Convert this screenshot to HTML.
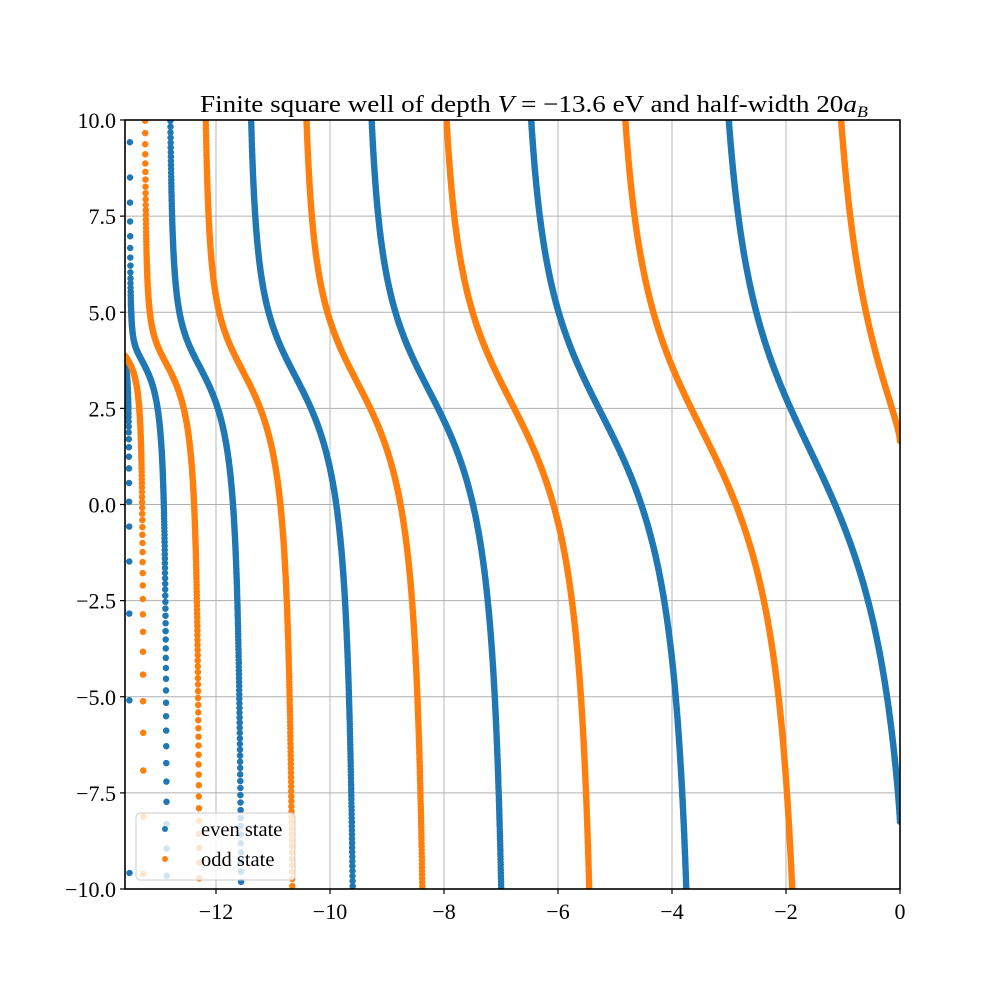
<!DOCTYPE html>
<html><head><meta charset="utf-8"><style>
html,body{margin:0;padding:0;background:#fff;}
svg{display:block;}
text{font-family:"Liberation Serif","DejaVu Serif",serif;fill:#000;}
</style></head><body>
<svg id="s" width="1000" height="1000" viewBox="0 0 1000 1000" xmlns="http://www.w3.org/2000/svg">
<defs><clipPath id="c"><rect x="125" y="120" width="775" height="769"/></clipPath></defs>
<g id="grid" stroke="#b0b0b0" stroke-width="0.9"></g>
<g id="pts" clip-path="url(#c)"></g>
<rect x="125" y="120" width="775" height="769" fill="none" stroke="#000" stroke-width="1.6"/>
<g id="ticks" stroke="#000" stroke-width="1.2"></g>
<g id="lab" font-size="22"></g>
<text x="200" y="112" font-size="24" textLength="668" lengthAdjust="spacingAndGlyphs">Finite square well of depth <tspan font-style="italic">V</tspan> = −13.6 eV and half-width 20<tspan font-style="italic">a</tspan><tspan font-style="italic" font-size="16" dy="5">B</tspan></text>
<rect x="136" y="813" width="159" height="67" rx="4" fill="#fff" fill-opacity="0.8" stroke="#cccccc" stroke-width="1"/>
<circle cx="165" cy="829" r="3" fill="#1f77b4"/>
<circle cx="165" cy="859" r="3" fill="#ff7f0e"/>
<text x="201" y="836" font-size="20.5">even state</text>
<text x="201" y="866" font-size="20.5">odd state</text>
</svg>
<script>
var NS="http://www.w3.org/2000/svg";
function X(e){return 900+e*57.0;}
function Y(v){return 504.5-v*38.45;}
var g=document.getElementById('grid'),t=document.getElementById('ticks'),l=document.getElementById('lab');
function ln(p,x1,y1,x2,y2){var e=document.createElementNS(NS,'line');e.setAttribute('x1',x1);e.setAttribute('y1',y1);e.setAttribute('x2',x2);e.setAttribute('y2',y2);p.appendChild(e);}
function tx(x,y,s,a){var e=document.createElementNS(NS,'text');e.setAttribute('x',x);e.setAttribute('y',y);e.setAttribute('text-anchor',a);e.textContent=s;l.appendChild(e);}
for(var e=-12;e<=0;e+=2){var x=X(e);ln(g,x,120,x,889);ln(t,x,889,x,894);tx(x,919,e<0?'−'+(-e):'0','middle');}
for(var i=-4;i<=4;i++){var v=i*2.5,y=Y(v);ln(g,125,y,900,y);ln(t,120,y,125,y);var s=Math.abs(v).toFixed(1);tx(116,y+8,(v<0?'−':'')+s,'end');}
var p=document.getElementById('pts');
var N=12000,be='',bo='';
for(var j=0;j<N;j++){
 var E=-13.6+13.6*j/(N-1);
 var k=Math.sqrt(E+13.6),kap=Math.sqrt(-E),z=20*Math.sqrt((E+13.6)/13.6);
 var ye=kap-k*Math.tan(z), yo=kap+k/Math.tan(z);
 var x=X(E).toFixed(1);
 if(isFinite(ye)&&ye>-10.3&&ye<10.3) be+='M'+x+' '+Y(ye).toFixed(1)+'h0';
 if(isFinite(yo)&&yo>-10.3&&yo<10.3) bo+='M'+x+' '+Y(yo).toFixed(1)+'h0';
}
function path(d,c){var e=document.createElementNS(NS,'path');e.setAttribute('d',d);e.setAttribute('stroke',c);e.setAttribute('stroke-width','6.5');e.setAttribute('stroke-linecap','round');e.setAttribute('fill','none');p.appendChild(e);}
path(be,'#1f77b4');path(bo,'#ff7f0e');
</script>
</body></html>
